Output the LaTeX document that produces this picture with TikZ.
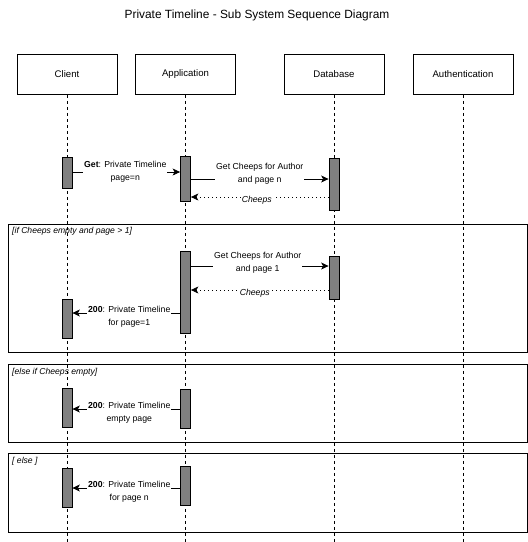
\documentclass[tikz,border=0pt]{standalone}
\usepackage{fontspec}
\setmainfont{Liberation Sans}
\usetikzlibrary{arrows.meta}
\definecolor{actgray}{HTML}{808080}

\begin{document}
\begin{tikzpicture}[x=1pt,y=-1pt,>={Stealth[length=7.5pt,width=7pt,inset=2pt]},
   head/.style={draw,line width=0.8pt,minimum width=100pt,minimum height=40pt,inner sep=0pt,font=\fontsize{9.6}{11}\selectfont},
   life/.style={line width=0.7pt,dash pattern=on 3pt off 3pt},
   act/.style={draw,fill=actgray,line width=0.8pt,minimum width=10pt,inner sep=0pt},
   fragment/.style={draw,line width=0.8pt},
   guard/.style={anchor=north west,inner sep=0pt,font=\fontsize{8.6}{9}\selectfont\itshape},
   msg/.style={->,line width=0.8pt},
   reply/.style={->,line width=0.8pt,dash pattern=on 1pt off 3pt},
   lbl/.style={fill=white,inner sep=1pt,align=center,font=\fontsize{8.7}{13}\selectfont}]
   \useasboundingbox (0,0) rectangle (528,542);

   \node[font=\fontsize{11.9}{14}\selectfont] (title) at (257,15) {Private Timeline - Sub System Sequence Diagram};

   \foreach \n/\x/\t in {client/67/Client, app/185.5/Application, db/334/Database, auth/463/Authentication} {
      \node[head] (\n) at (\x,74.5) {\t};
      \coordinate (\n end) at (\x,542);
      \draw[life] (\n) -- (\n end);
   }

   \draw[fragment] (8,224) rectangle (527,352);
   \draw[fragment] (8,364) rectangle (527,442);
   \draw[fragment] (8,453) rectangle (527,532);
   \node[guard] (g1) at (12,227) {[if Cheeps empty and page > 1]};
   \node[guard] (g2) at (12,368) {[else if Cheeps empty]};
   \node[guard] (g3) at (12,457) {[ else ]};

   \node[act,minimum height=31pt] (c1) at (67,172.5) {};
   \node[act,minimum height=45pt] (a1) at (185.5,178.5) {};
   \node[act,minimum height=52pt] (d1) at (334,184) {};

   \node[act,minimum height=82pt] (a2) at (185.5,292) {};
   \node[act,minimum height=43pt] (d2) at (334,277.5) {};
   \node[act,minimum height=39pt] (c2) at (67,318.5) {};

   \node[act,minimum height=39pt] (c3) at (67,407.5) {};
   \node[act,minimum height=39pt] (a3) at (185.5,408.5) {};

   \node[act,minimum height=39pt] (c4) at (67,487.5) {};
   \node[act,minimum height=39pt] (a4) at (185.5,485.5) {};

   \draw[msg] (c1.east |- 0,172) -- node[lbl,xshift=-1pt]{\textbf{Get}: Private Timeline\\page=n} (a1.west |- 0,172);
   \draw[msg] (a1.east |- 0,179) -- node[lbl,yshift=5pt]{Get Cheeps for Author\\and page n} (d1.west |- 0,179);
   \draw[reply] (d1.west |- 0,197) -- node[lbl,yshift=-3pt,xshift=-3pt]{\itshape Cheeps} (a1.east |- 0,197);

   \draw[msg] (a2.east |- 0,266) -- node[lbl,yshift=3pt,xshift=-2pt]{Get Cheeps for Author\\and page 1} (d2.west |- 0,266);
   \draw[reply] (d2.west |- 0,290) -- node[lbl,yshift=-3pt,xshift=-5pt]{\itshape Cheeps} (a2.east |- 0,290);
   \draw[msg] (a2.west |- 0,313) -- node[lbl,yshift=-4pt,xshift=3pt]{\textbf{200}: Private Timeline\\for page=1} (c2.east |- 0,313);

   \draw[msg] (a3.west |- 0,409) -- node[lbl,yshift=-4pt,xshift=3pt]{\textbf{200}: Private Timeline\\empty page} (c3.east |- 0,409);

   \draw[msg] (a4.west |- 0,488) -- node[lbl,yshift=-4pt,xshift=3pt]{\textbf{200}: Private Timeline\\for page n} (c4.east |- 0,488);
\end{tikzpicture}
\end{document}
